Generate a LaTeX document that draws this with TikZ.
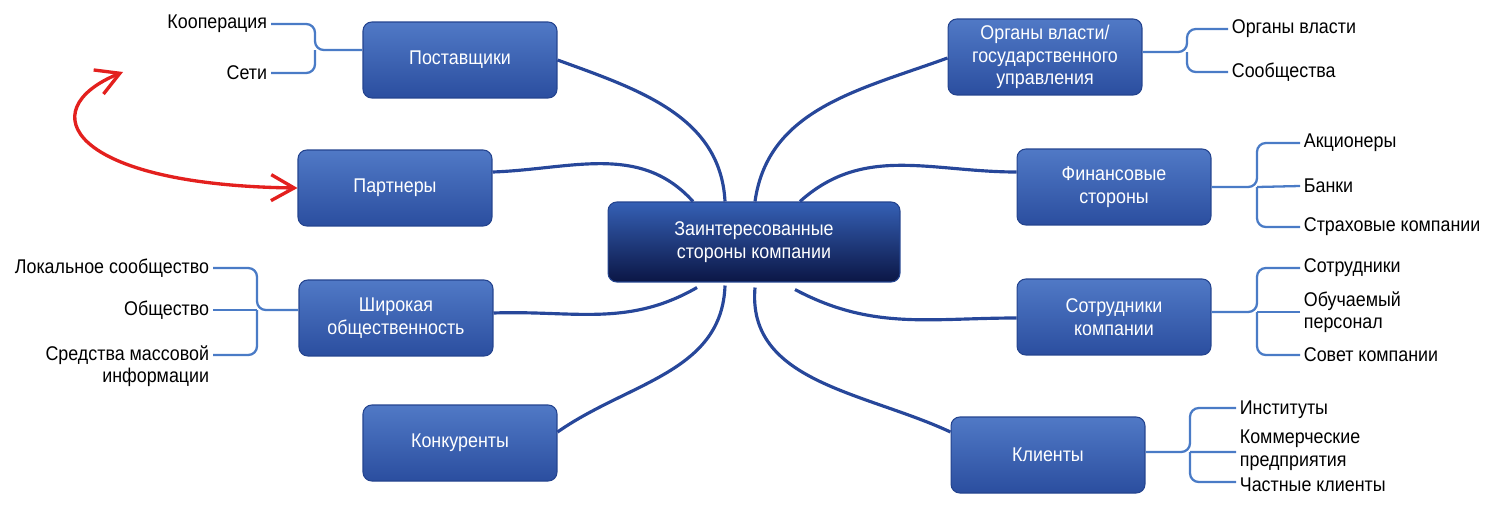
\documentclass[tikz,border=0pt]{standalone}
\usepackage{fontspec}
\setmainfont{Liberation Sans}[FakeStretch=0.9]
\usepackage{xcolor}
\usetikzlibrary{arrows.meta,positioning}

\definecolor{boxtop}{HTML}{5079C6}
\definecolor{boxbot}{HTML}{2B4E9F}
\definecolor{boxline}{HTML}{24448F}
\definecolor{hubtop}{HTML}{3560B5}
\definecolor{hubbot}{HTML}{0B1645}
\definecolor{linkblue}{HTML}{27479A}
\definecolor{braceblue}{HTML}{4A7BC6}
\definecolor{redline}{HTML}{E3201E}

\begin{document}
\begin{tikzpicture}[x=0.02cm, y=0.02cm, font=\fontsize{11.3}{12.8}\selectfont,
    party/.style={rectangle, rounded corners=5pt, draw=boxline, line width=0.6pt, top color=boxtop, bottom color=boxbot, text=white, align=center, minimum width=3.88cm, minimum height=1.52cm},
    core/.style={party, top color=hubtop, bottom color=hubbot, minimum width=5.84cm, minimum height=1.6cm},
    leftitem/.style={anchor=east, align=right, inner sep=2pt},
    rightitem/.style={anchor=west, align=left, inner sep=2pt},
    link/.style={draw=linkblue, line width=1.8pt},
    brace/.style={draw=braceblue, line width=1.3pt, rounded corners=5pt},
    redarrow/.style={{Straight Barb[length=4.6mm,width=5.2mm]}-{Straight Barb[length=4.6mm,width=5.2mm]}, redline, line width=1.9pt}]

    \useasboundingbox (0,0) rectangle (1487,-504);

    % center and stakeholder groups
    \node [core] (hub) at (754,-242) {Заинтересованные\\стороны компании};
    \node [party] (post) at (460,-60) {Поставщики};
    \node [party] (partn) at (395,-188) {Партнеры};
    \node [party] (public) at (396,-318) {Широкая\\общественность};
    \node [party] (compet) at (460,-443) {Конкуренты};
    \node [party] (gov) at (1045,-57) {Органы власти/\\государственного\\управления};
    \node [party] (fin) at (1114,-187) {Финансовые\\стороны};
    \node [party] (staff) at (1114,-317) {Сотрудники\\компании};
    \node [party] (client) at (1048,-455) {Клиенты};

    % sub items, left
    \node [leftitem] (koop) at (271,-24) {Кооперация};
    \node [leftitem] (seti) at (271,-73) {Сети};
    \node [leftitem] (local) at (213,-268) {Локальное сообщество};
    \node [leftitem] (society) at (213,-310) {Общество};
    \node [leftitem] (media) at (213,-366) {Средства массовой\\информации};

    % sub items, right
    \node [rightitem] (authority) at (1228,-29) {Органы власти};
    \node [rightitem] (communities) at (1228,-72) {Сообщества};
    \node [rightitem] (share) at (1300,-143) {Акционеры};
    \node [rightitem] (banks) at (1300,-186) {Банки};
    \node [rightitem] (insur) at (1300,-227) {Страховые компании};
    \node [rightitem] (empl) at (1300,-268) {Сотрудники};
    \node [rightitem] (trainee) at (1300,-312) {Обучаемый\\персонал};
    \node [rightitem] (board) at (1300,-355) {Совет компании};
    \node [rightitem] (inst) at (1236,-410) {Институты};
    \node [rightitem] (business) at (1236,-450) {Коммерческие\\предприятия};
    \node [rightitem] (private) at (1236,-485) {Частные клиенты};

    % links to the center
    \draw [link] ([xshift=-0.58cm]hub.north) to[out=93, in=-20] (post.east);
    \draw [link] ([xshift=-1.22cm]hub.north) to[out=132, in=2] ([yshift=0.32cm]partn.east);
    \draw [link] ([xshift=-1.14cm,yshift=-0.1cm]hub.south) to[out=-150, in=2] ([yshift=0.1cm]public.east);
    \draw [link] ([xshift=-0.58cm,yshift=-0.06cm]hub.south) to[out=-92, in=35] ([yshift=0.22cm]compet.east);
    \draw [link] ([xshift=0.02cm]hub.north) to[out=82, in=-160] ([yshift=-0.02cm]gov.west);
    \draw [link] ([xshift=0.92cm]hub.north) to[out=42, in=180] ([yshift=0.3cm]fin.west);
    \draw [link] ([xshift=0.82cm,yshift=-0.14cm]hub.south) to[out=-28, in=180] ([yshift=-0.02cm]staff.west);
    \draw [link] ([xshift=0.02cm,yshift=-0.1cm]hub.south) to[out=-95, in=155] ([yshift=0.46cm]client.west);

    % braces
    \draw [brace] (koop.east) -| (315,-50) -- ([yshift=0.2cm]post.west);
    \draw [brace] (seti.east) -| (315,-50);
    \draw [brace] (local.east) -| (257,-310) -- ([yshift=0.16cm]public.west);
    \draw [brace] (society.east) -- (257,-310);
    \draw [brace] ([yshift=0.22cm]media.east) -| (257,-310);
    \draw [brace] (authority.west) -| (1187,-52) -- ([yshift=0.1cm]gov.east);
    \draw [brace] (communities.west) -| (1187,-52);
    \draw [brace] (share.west) -| (1257,-187) -- (fin.east);
    \draw [brace] (banks.west) -- (1257,-187);
    \draw [brace] (insur.west) -| (1257,-187);
    \draw [brace] (empl.west) -| (1257,-312) -- ([yshift=0.1cm]staff.east);
    \draw [brace] (trainee.west) -- (1257,-312);
    \draw [brace] (board.west) -| (1257,-312);
    \draw [brace] ([yshift=0.04cm]inst.west) -| (1190,-452) -- ([yshift=0.06cm]client.east);
    \draw [brace] ([yshift=-0.04cm]business.west) -- (1190,-452);
    \draw [brace] ([yshift=0.06cm]private.west) -| (1190,-452);

    % red arrow
    \coordinate (redtip) at (123,-72);
    \draw [redarrow] (redtip) .. controls (30,-110) and (70,-185) .. (partn.west);
\end{tikzpicture}
\end{document}
